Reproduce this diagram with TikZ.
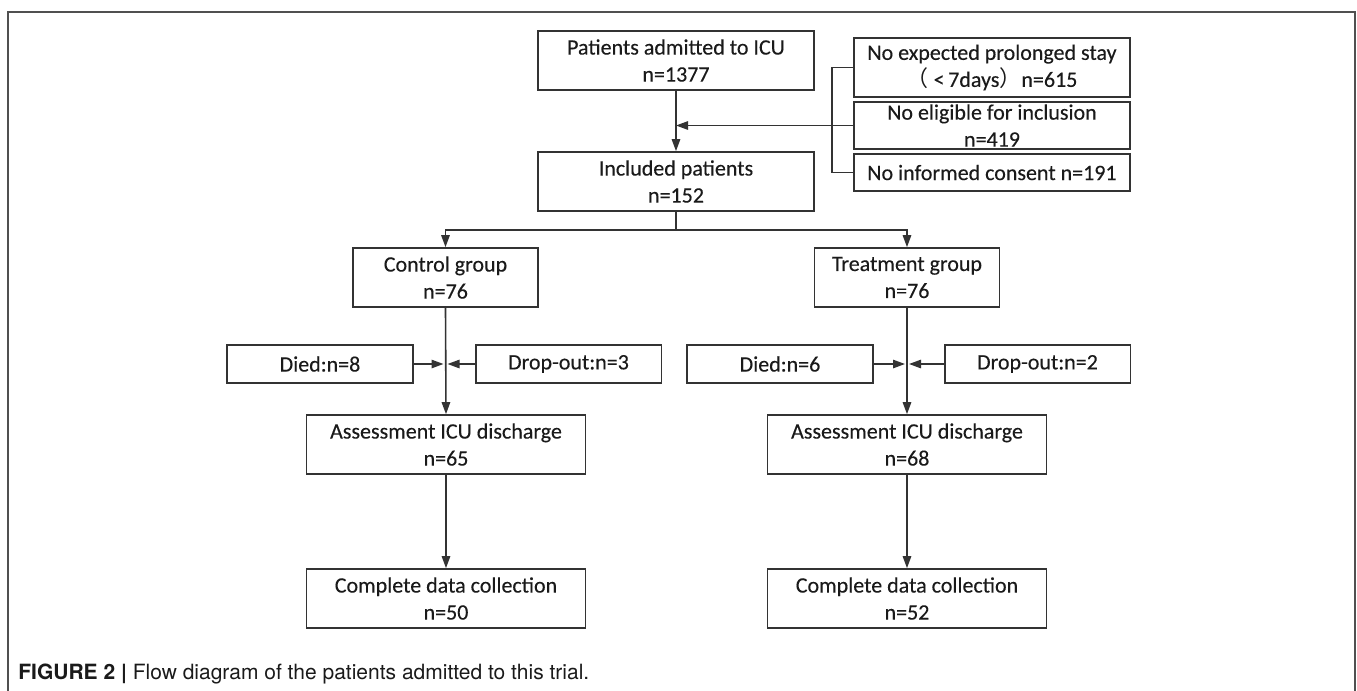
\documentclass[tikz,border=0pt]{standalone}
\usepackage{fontspec}
\setmainfont{Carlito}[FakeBold=0.25]
\newfontfamily\capfont{TeX Gyre Heros}
\newfontfamily\cjk{Noto Sans CJK SC}
\usetikzlibrary{arrows.meta}
\definecolor{linec}{HTML}{333333}
\definecolor{framec}{HTML}{505050}
\definecolor{txt}{HTML}{1A1A1A}
\begin{document}
\begin{tikzpicture}[x=0.5pt,y=-0.5pt,
  box/.style={draw=linec, line width=0.8pt, align=center, inner sep=0pt,
    font=\fontsize{11}{13.5}\selectfont, text=txt},
  wbox/.style={box, minimum width=138pt, minimum height=29.5pt},
  gbox/.style={box, minimum width=92.5pt, minimum height=29.5pt},
  sbox/.style={box, minimum width=92.8pt, minimum height=19pt},
  lbox/.style={box, minimum width=139.5pt, minimum height=29.5pt},
  conn/.style={draw=linec, line width=0.8pt},
  arr/.style={conn, -{Triangle[length=6pt,width=4.2pt]}}]
\useasboundingbox (0,0) rectangle (1357,691);
% frame
\draw[framec, line width=0.8pt] (8,691) -- (8,12) -- (1355,12) -- (1355,691);
% nodes
\node[wbox] (adm) at (676,60.5) {Patients admitted to ICU\\n=1377};
\node[wbox] (inc) at (676,181.5) {Included patients\\n=152};
\node[wbox] (ex1) at (992,67.5) {No expected prolonged stay\\{\cjk （}\ <\,7days{\cjk ）}n=615};
\node[box, minimum width=138pt, minimum height=23.5pt] (ex2) at (992,125.5) {No eligible for inclusion\\n=419};
\node[box, minimum width=138pt, minimum height=18.5pt] (ex3) at (992,172.5) {No informed consent n=191};
\node[gbox] (ctl) at (445.5,277.5) {Control group\\n=76};
\node[gbox] (trt) at (907,277.5) {Treatment group\\n=76};
\node[sbox] (died1) at (320,364) {Died:n=8};
\node[sbox] (drop1) at (568.5,364) {Drop-out:n=3};
\node[sbox] (died2) at (780,364) {Died:n=6};
\node[sbox] (drop2) at (1037.5,364) {Drop-out:n=2};
\node[lbox] (ass1) at (446,444.5) {Assessment ICU discharge\\n=65};
\node[lbox] (ass2) at (907,444.5) {Assessment ICU discharge\\n=68};
\node[lbox] (com1) at (446,598.5) {Complete data collection\\n=50};
\node[lbox] (com2) at (907,598.5) {Complete data collection\\n=52};
% caption
\node[anchor=base west, inner sep=0pt, font=\capfont\fontsize{10.5}{12}\selectfont, text=txt] (cap) at (18,679)
  {\textbf{FIGURE 2 |} Flow diagram of the patients admitted to this trial.};
% connectors
\draw[arr] (adm.south) -- (inc.north);
\coordinate (br) at (832,125.5);
\draw[conn] (ex1.west) -| (br) |- (ex3.west);
\draw[conn] (ex2.west) -- (br);
\draw[arr] (br) -- (inc.north |- br);
\draw[conn] (inc.south) -- ++(0,18) coordinate (sp);
\draw[arr] (sp) -| (ctl.north);
\draw[arr] (sp) -| (trt.north);
\draw[arr] (ctl.south) -- (ass1.north);
\draw[arr] (trt.south) -- (ass2.north);
\draw[arr, shorten >=1pt] (died1.east) -- (ctl.south |- died1.east);
\draw[arr, shorten >=1pt] (drop1.west) -- (ctl.south |- drop1.west);
\draw[arr, shorten >=1pt] (died2.east) -- (trt.south |- died2.east);
\draw[arr, shorten >=1pt] (drop2.west) -- (trt.south |- drop2.west);
\draw[arr] (ass1.south) -- (com1.north);
\draw[arr] (ass2.south) -- (com2.north);
\end{tikzpicture}
\end{document}
